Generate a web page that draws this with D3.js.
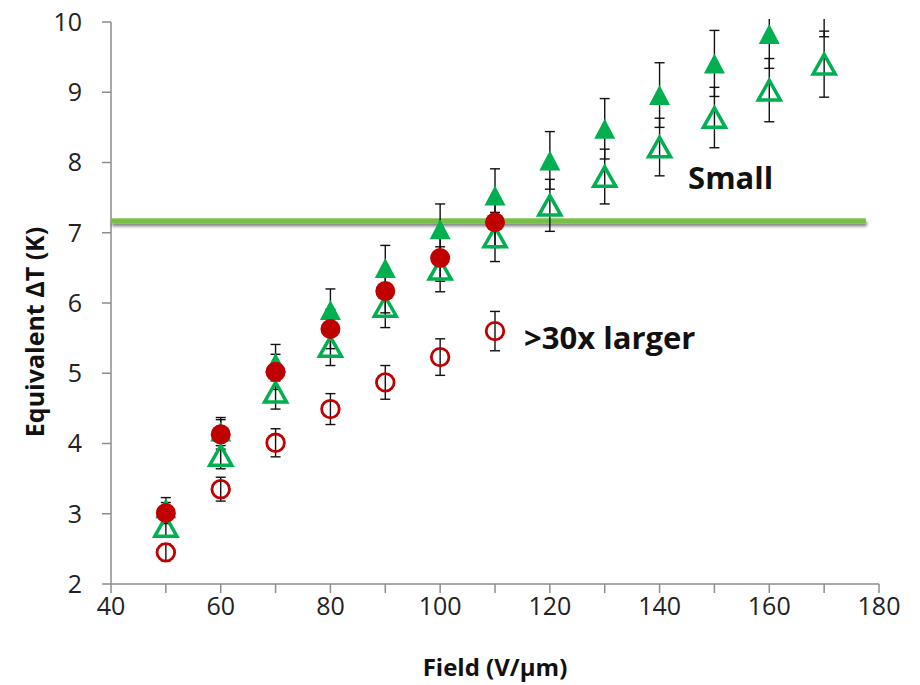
<!DOCTYPE html>
<html>
<head>
<meta charset="utf-8">
<script src="https://cdn.jsdelivr.net/npm/d3@7"></script>
<style>
  html, body { margin: 0; padding: 0; background: #fff; }
  svg { display: block; }
</style>
</head>
<body>
<script>
// ---- data ----
const fields = [50, 60, 70, 80, 90, 100, 110, 120, 130, 140, 150, 160, 170];
const smallFilledTri = [3.08, 4.17, 5.15, 5.90, 6.50, 7.05, 7.53, 8.03, 8.48, 8.96, 9.41, 9.83, 10.30];
const smallFilledTriErr = [0.15, 0.20, 0.26, 0.30, 0.32, 0.36, 0.38, 0.41, 0.43, 0.46, 0.47, 0.49, 0.51];
const smallOpenTri = [2.82, 3.83, 4.73, 5.38, 5.95, 6.48, 6.94, 7.39, 7.80, 8.22, 8.64, 9.03, 9.40];
const smallOpenTriErr = [0.14, 0.19, 0.24, 0.27, 0.30, 0.32, 0.35, 0.37, 0.39, 0.41, 0.43, 0.45, 0.47];
const largeFields = [50, 60, 70, 80, 90, 100, 110];
const largeFilledCirc = [3.01, 4.13, 5.02, 5.63, 6.17, 6.64, 7.15];
const largeFilledCircErr = [0.15, 0.21, 0.25, 0.28, 0.31, 0.33, 0.36];
const largeOpenCirc = [2.45, 3.35, 4.01, 4.49, 4.87, 5.23, 5.60];
const largeOpenCircErr = [0.12, 0.17, 0.20, 0.22, 0.24, 0.26, 0.28];
const xTicks = [40, 50, 60, 70, 80, 90, 100, 110, 120, 130, 140, 150, 160, 170, 180];
const xTickLabels = [40, 60, 80, 100, 120, 140, 160, 180];
const yTicks = [2, 3, 4, 5, 6, 7, 8, 9, 10];
const refLine = { y: 7.17, x0: 40, x1: 177.6 };
const annotations = [
  { text: "Small", x: 145.2, y: 7.78 },
  { text: ">30x larger", x: 115.3, y: 5.50 }
];

// ---- layout ----
const W = 920, H = 685;
const x = d3.scaleLinear().domain([40, 180]).range([111, 879]);
const y = d3.scaleLinear().domain([2, 10]).range([584, 22]);

const svg = d3.select("body").append("svg").attr("width", W).attr("height", H);
const defs = svg.append("defs");
defs.append("clipPath").attr("id", "plotclip")
  .append("rect").attr("x", 100).attr("y", 19).attr("width", 800).attr("height", 570);
const f = defs.append("filter").attr("id", "shadow").attr("filterUnits", "userSpaceOnUse")
  .attr("x", 90).attr("y", 190).attr("width", 800).attr("height", 60);
f.append("feGaussianBlur").attr("in", "SourceAlpha").attr("stdDeviation", 1.6).attr("result", "b");
f.append("feOffset").attr("in", "b").attr("dx", 1).attr("dy", 3).attr("result", "o");
f.append("feComponentTransfer").attr("in", "o").attr("result", "o2")
  .append("feFuncA").attr("type", "linear").attr("slope", 0.5);
const fm = f.append("feMerge");
fm.append("feMergeNode").attr("in", "o2");
fm.append("feMergeNode").attr("in", "SourceGraphic");

const axisColor = "#8c8c8c";
const red = "#c00000", green = "#00b050";
const tickFont = "'Open Sans', 'DejaVu Sans', sans-serif";

// axes
const gAx = svg.append("g");
gAx.append("line").attr("x1", x(40)).attr("x2", x(40)).attr("y1", y(10)).attr("y2", y(2))
  .attr("stroke", axisColor).attr("stroke-width", 1.5);
gAx.append("line").attr("x1", x(40)).attr("x2", x(180)).attr("y1", y(2)).attr("y2", y(2))
  .attr("stroke", axisColor).attr("stroke-width", 1.5);
gAx.selectAll("line.yt").data(yTicks).enter().append("line")
  .attr("x1", x(40) - 9).attr("x2", x(40)).attr("y1", d => y(d)).attr("y2", d => y(d))
  .attr("stroke", axisColor).attr("stroke-width", 1.5);
gAx.selectAll("line.xt").data(xTicks).enter().append("line")
  .attr("x1", d => x(d)).attr("x2", d => x(d)).attr("y1", y(2)).attr("y2", y(2) + 9)
  .attr("stroke", axisColor).attr("stroke-width", 1.5);
gAx.selectAll("text.yl").data(yTicks).enter().append("text")
  .attr("x", 82).attr("y", d => y(d)).attr("dy", "0.35em").attr("text-anchor", "end")
  .attr("font-family", tickFont).attr("font-size", 25).attr("fill", "#222")
  .text(d => d);
gAx.selectAll("text.xl").data(xTickLabels).enter().append("text")
  .attr("x", d => x(d)).attr("y", 606).attr("dy", "0.35em").attr("text-anchor", "middle")
  .attr("font-family", tickFont).attr("font-size", 25).attr("fill", "#222")
  .text(d => d);

// axis titles
svg.append("text").attr("x", x(110)).attr("y", 668).attr("dy", "0.35em")
  .attr("text-anchor", "middle").attr("font-family", tickFont).attr("font-weight", "bold")
  .attr("font-size", 24).attr("fill", "#111").text("Field (V/\u00b5m)");
svg.append("text").attr("transform", "translate(35,332) rotate(-90)").attr("dy", "0.35em")
  .attr("text-anchor", "middle").attr("font-family", tickFont).attr("font-weight", "bold")
  .attr("font-size", 25).attr("fill", "#111").text("Equivalent \u0394T (K)");

// plot content
const plot = svg.append("g").attr("clip-path", "url(#plotclip)");

// reference line (drawn as a thin rect so the shadow filter has a real box)
plot.append("rect").attr("x", x(refLine.x0)).attr("width", x(refLine.x1) - x(refLine.x0))
  .attr("y", y(refLine.y) - 2.5).attr("height", 5)
  .attr("fill", "#78bf44").attr("filter", "url(#shadow)");

// error bars
function errBars(xs, vals, errs) {
  const g = plot.append("g").attr("stroke", "#111").attr("stroke-width", 1.4).attr("fill", "none");
  xs.forEach((xv, i) => {
    const cx = x(xv), top = y(vals[i] + errs[i]), bot = y(vals[i] - errs[i]);
    g.append("line").attr("x1", cx).attr("x2", cx).attr("y1", top).attr("y2", bot);
    g.append("line").attr("x1", cx - 5).attr("x2", cx + 5).attr("y1", top).attr("y2", top);
    g.append("line").attr("x1", cx - 5).attr("x2", cx + 5).attr("y1", bot).attr("y2", bot);
  });
}
errBars(fields, smallFilledTri, smallFilledTriErr);
errBars(fields, smallOpenTri, smallOpenTriErr);
errBars(largeFields, largeOpenCirc, largeOpenCircErr);
errBars(largeFields, largeFilledCirc, largeFilledCircErr);

function tri(w, h) {
  return `M0,${-h / 2}L${w / 2},${h / 2}L${-w / 2},${h / 2}Z`;
}

// filled triangles
plot.append("g").selectAll("path").data(fields.map((f, i) => [f, smallFilledTri[i]])).enter()
  .append("path").attr("d", tri(21, 20))
  .attr("transform", d => `translate(${x(d[0])},${y(d[1])})`)
  .attr("fill", green);
// open triangles
plot.append("g").selectAll("path").data(fields.map((f, i) => [f, smallOpenTri[i]])).enter()
  .append("path").attr("d", tri(22, 19.5))
  .attr("transform", d => `translate(${x(d[0])},${y(d[1])})`)
  .attr("fill", "none").attr("stroke", green).attr("stroke-width", 3.5).attr("stroke-linejoin", "miter");
// open circles
plot.append("g").selectAll("circle").data(largeFields.map((f, i) => [f, largeOpenCirc[i]])).enter()
  .append("circle").attr("cx", d => x(d[0])).attr("cy", d => y(d[1])).attr("r", 8.8)
  .attr("fill", "none").attr("stroke", red).attr("stroke-width", 2.8);
// filled circles
plot.append("g").selectAll("circle").data(largeFields.map((f, i) => [f, largeFilledCirc[i]])).enter()
  .append("circle").attr("cx", d => x(d[0])).attr("cy", d => y(d[1])).attr("r", 10)
  .attr("fill", red);

// annotations
svg.selectAll("text.ann").data(annotations).enter().append("text")
  .attr("x", d => x(d.x)).attr("y", d => y(d.y)).attr("dy", "0.35em")
  .attr("font-family", tickFont).attr("font-weight", "bold").attr("font-size", 31)
  .attr("fill", "#111").text(d => d.text);
</script>
</body>
</html>
